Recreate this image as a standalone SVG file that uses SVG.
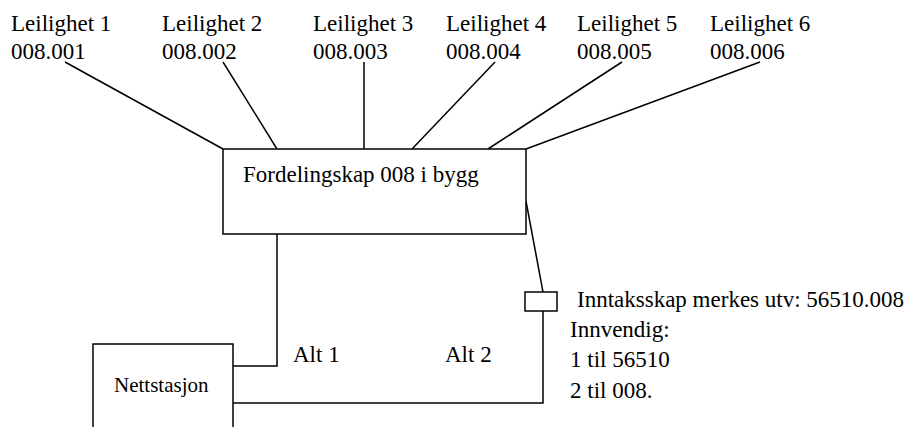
<svg xmlns="http://www.w3.org/2000/svg" width="920" height="427" viewBox="0 0 920 427">
<style>
text{font-family:"Liberation Serif","Times New Roman",serif;fill:#000;font-size:23px}
.sm{font-size:21px}
.box{fill:#fff;stroke:#000;stroke-width:1.5}
.ln{stroke:#000;stroke-width:1.5;fill:none}
</style>
<rect width="920" height="427" fill="#fff"/>
<g id="connectors">
<line class="ln" x1="65" y1="62" x2="223" y2="149"/>
<line class="ln" x1="223" y1="62" x2="277" y2="149"/>
<line class="ln" x1="364" y1="62" x2="364" y2="149"/>
<line class="ln" x1="495" y1="62" x2="412" y2="149"/>
<line class="ln" x1="622" y1="62" x2="488" y2="149"/>
<line class="ln" x1="760" y1="62" x2="526" y2="149"/>
<polyline class="ln" points="277,234 277,366 233,366"/>
<line class="ln" x1="526" y1="201" x2="543" y2="292"/>
<polyline class="ln" points="233,403 543,403 543,311"/>
</g>
<g id="leil1"><text x="11" y="31">Leilighet 1</text><text x="11" y="59">008.001</text></g>
<g id="leil2"><text x="162" y="31">Leilighet 2</text><text x="162" y="59">008.002</text></g>
<g id="leil3"><text x="313" y="31">Leilighet 3</text><text x="313" y="59">008.003</text></g>
<g id="leil4"><text x="446" y="31">Leilighet 4</text><text x="446" y="59">008.004</text></g>
<g id="leil5"><text x="577" y="31">Leilighet 5</text><text x="577" y="59">008.005</text></g>
<g id="leil6"><text x="710" y="31">Leilighet 6</text><text x="710" y="59">008.006</text></g>
<g id="fordelingskap"><rect class="box" x="223" y="149" width="303" height="85"/><text x="243" y="182">Fordelingskap 008 i bygg</text></g>
<g id="nettstasjon"><rect class="box" x="93" y="344" width="140" height="100"/><text class="sm" x="114" y="392">Nettstasjon</text></g>
<g id="inntaksskap"><rect class="box" x="525" y="292" width="32" height="19"/><text x="577" y="307">Inntaksskap merkes utv: 56510.008</text></g>
<g id="innvendig"><text x="570" y="337">Innvendig:</text><text x="570" y="367">1 til 56510</text><text x="570" y="398">2 til 008.</text></g>
<g id="alt1"><text x="293" y="362">Alt 1</text></g>
<g id="alt2"><text x="445" y="362">Alt 2</text></g>
</svg>
